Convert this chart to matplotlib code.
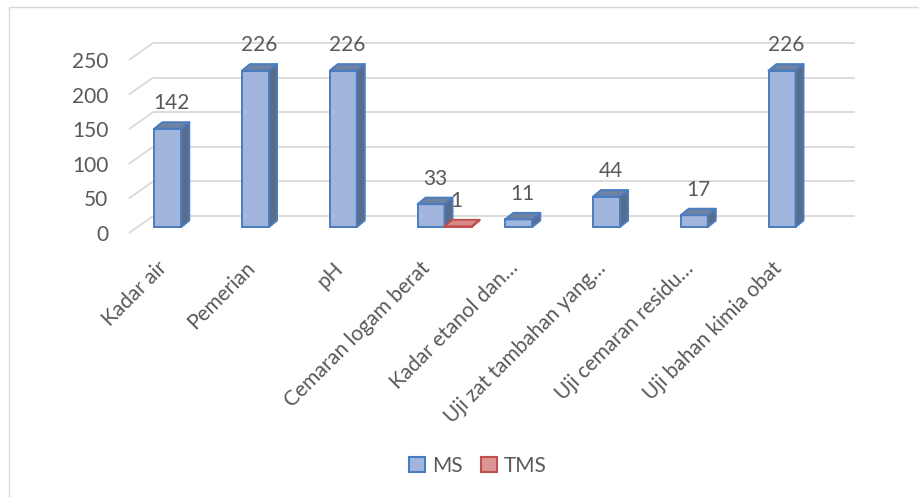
import matplotlib.pyplot as plt
from matplotlib.patches import Polygon, Patch, Rectangle

plt.rcParams['font.family'] = ['Lato', 'DejaVu Sans']

kategori = ["Kadar air", "Pemerian", "pH", "Cemaran logam berat",
            "Kadar etanol dan…", "Uji zat tambahan yang…",
            "Uji cemaran residu…", "Uji bahan kimia obat"]
ms = [142, 226, 226, 33, 11, 44, 17, 226]
tms = [0, 0, 0, 1, 0, 0, 0, 0]
ms_label = [True] * 8
tms_label = [False, False, False, True, False, False, False, False]
yticks = [0, 50, 100, 150, 200, 250]

abu = "#595959"
fs = 15
W, H = 919, 497
fig = plt.figure(figsize=(W / 100, H / 100), dpi=100)

# bidang depan: x 129..831 px, y 0 -> 233 px, 250 -> 60 px
x0, x1, y0, y1 = 129, 831, 233, 60
ax = fig.add_axes([x0 / W, 1 - y0 / H, (x1 - x0) / W, (y0 - y1) / H])
ax.set_xlim(-0.5, 7.5)
ax.set_ylim(0, 250)
for s in ax.spines.values():
    s.set_visible(False)

pxx = (x1 - x0) / 8.0          # px per kategori
pxy = (y0 - y1) / 250.0        # px per unit nilai


def geser(kanan, atas):
    return kanan / pxx, atas / pxy


# kedalaman lantai / dinding belakang
fx, fy = geser(24, 17)
for v in yticks:
    ax.plot([-0.5, -0.5 + fx], [v, v + fy], color="#D9D9D9", lw=1.3,
            clip_on=False, zorder=1, solid_capstyle="butt")
    ax.plot([-0.5 + fx, 7.5 + fx], [v + fy, v + fy], color="#D9D9D9", lw=1.3,
            clip_on=False, zorder=1, solid_capstyle="butt")

# posisi batang di dalam kedalaman, dan tebal batang
bx, by = geser(8.4, 6)
dx, dy = geser(8, 6.5)
lebar = 27 / pxx


def batang(xl, val, muka, sisi, atas, tepi, z):
    xa, ya = xl + bx, by
    xb, yb = xa + lebar, by + val
    ax.bar(xa, val, width=lebar, bottom=ya, align="edge", color=muka,
           edgecolor=tepi, linewidth=1.4, clip_on=False, zorder=z)
    ax.add_patch(Polygon([(xb, ya), (xb + dx, ya + dy), (xb + dx, yb + dy), (xb, yb)],
                         closed=True, facecolor=sisi, edgecolor=tepi, lw=1.4,
                         clip_on=False, zorder=z, joinstyle="round"))
    ax.add_patch(Polygon([(xa, yb), (xb, yb), (xb + dx, yb + dy), (xa + dx, yb + dy)],
                         closed=True, facecolor=atas, edgecolor=tepi, lw=1.4,
                         clip_on=False, zorder=z, joinstyle="round"))


z = 3
for i in range(len(kategori)):
    batang(i - lebar, ms[i], "#A2B6DD", "#5B6C8A", "#6F82A3", "#4A7DC0", z)
    z += 1
    if tms[i] > 0:
        batang(i, tms[i], "#D99694", "#B05A58", "#D98A88", "#C0504D", z)
        z += 1

for i in range(len(kategori)):
    if ms_label[i]:
        ax.annotate(str(ms[i]), (i - lebar / 2 + bx + dx / 2, ms[i] + by + dy),
                    xytext=(0, 13.5), textcoords="offset points", ha="center",
                    va="center", fontsize=fs, color=abu, zorder=2,
                    annotation_clip=False)
    if tms_label[i]:
        ax.annotate(str(tms[i]), (i + lebar / 2 + bx + dx / 2 - 0.06, tms[i] + by + dy),
                    xytext=(0, 13.5), textcoords="offset points", ha="center",
                    va="center", fontsize=fs, color=abu, zorder=2,
                    annotation_clip=False)

ax.set_yticks(yticks)
ax.set_yticklabels([str(v) for v in yticks], fontsize=fs, color=abu)
ax.tick_params(axis="y", length=0, pad=15)
ax.set_xticks([])

ly = -32 / pxy
for i, k in enumerate(kategori):
    ax.text(i - 0.1, ly, k, rotation=45, rotation_mode="anchor", ha="right",
            va="center", fontsize=fs, color=abu, clip_on=False)

fig.legend(handles=[Patch(facecolor="#A2B6DD", edgecolor="#4A7DC0", lw=1.5, label="MS"),
                    Patch(facecolor="#D99694", edgecolor="#C0504D", lw=1.5, label="TMS")],
           loc="center", bbox_to_anchor=(478 / W, 1 - 466 / H), ncol=2, frameon=False,
           fontsize=fs, labelcolor=abu, handlelength=0.75, handleheight=0.75,
           handletextpad=0.35, columnspacing=0.9)

fig.patches.append(Rectangle((9 / W, -0.05), 1.2, 1.05 - 7 / H, transform=fig.transFigure,
                             facecolor="none", edgecolor="#D9D9D9", lw=1))

fig.savefig("out.png", dpi=100)
